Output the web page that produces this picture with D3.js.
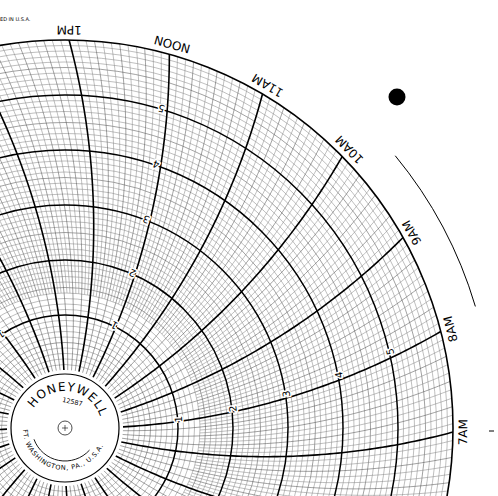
<!DOCTYPE html>
<html><head><meta charset="utf-8">
<script src="https://cdn.jsdelivr.net/npm/d3@7"></script>
<style>body{margin:0;background:#fff}svg{display:block}</style>
</head><body>
<script>
// data
const hourLabels = [
  {t:7, text:"7AM"},{t:8, text:"8AM"},{t:9, text:"9AM"},{t:10, text:"10AM"},
  {t:11, text:"11AM"},{t:12, text:"NOON"},{t:13, text:"1PM"},{t:14,text:"2PM"},
  {t:15,text:"3PM"},{t:16,text:"4PM"},{t:17,text:"5PM"},{t:18,text:"6PM"},
  {t:19,text:"7PM"},{t:20,text:"8PM"},{t:21,text:"9PM"},{t:22,text:"10PM"},
  {t:23,text:"11PM"},{t:24,text:"MID"},{t:25,text:"1AM"},{t:26,text:"2AM"},
  {t:27,text:"3AM"},{t:28,text:"4AM"},{t:29,text:"5AM"},{t:30,text:"6AM"}];
const scaleValues = [1,2,3,4,5];
const scaleLabelHours = [8,12,16,20,24,28];
const scaleDomain = [0,6];
const minorPerUnit = 10;
const minorPerHour = 12;

const W=498,H=496, cx=65, cy=428, R0=58, R=388, rho=720;
const svg=d3.select("body").append("svg").attr("width",W).attr("height",H);
const rS=d3.scaleLinear().domain(scaleDomain).range([R0,R]);
const tS=d3.scaleLinear().domain([7,31]).range([-0.6*Math.PI/180, (360-0.6)*Math.PI/180]);
const bend=r=>Math.asin(R/(2*rho))-Math.asin(r/(2*rho));
const pt=(a,r)=>[cx+r*Math.cos(a), cy-r*Math.sin(a)];
const tl=(t,r)=>pt(tS(t)-bend(r), r);

svg.append("defs").append("clipPath").attr("id","disc").append("circle").attr("cx",cx).attr("cy",cy).attr("r",R);
const g=svg.append("g").attr("clip-path","url(#disc)");

// minor circles
const circ=[];
for(let i=0;i<=scaleDomain[1]*minorPerUnit;i++) circ.push(i/minorPerUnit);
g.selectAll("circle.m").data(circ.filter(v=>Math.abs(v-Math.round(v))>1e-6)).join("circle")
 .attr("cx",cx).attr("cy",cy).attr("r",d=>rS(d)).attr("fill","none")
 .attr("stroke",d=>Math.abs(d*2-Math.round(d*2))<1e-6?"#555":"#8a8a8a").attr("stroke-width",0.55);
// minor time lines
const line=d3.line();
const mins=[];
for(let h=7;h<31;h++) for(let k=1;k<minorPerHour;k++) mins.push(h+k/minorPerHour);
const kOf=t=>Math.round((t%1)*minorPerHour);
g.selectAll("path.mt").data(mins).join("path")
 .attr("d",t=>{const r0=(kOf(t)%3===0)?R0:rS(1.4);
   return line(d3.range(r0,R+2,4).concat([R+2]).map(r=>tl(t,r)));})
 .attr("fill","none").attr("stroke",t=>kOf(t)%3===0?"#555":"#8a8a8a").attr("stroke-width",0.55);
// major circles
g.selectAll("circle.M").data(d3.range(1,6)).join("circle")
 .attr("cx",cx).attr("cy",cy).attr("r",d=>rS(d)).attr("fill","none").attr("stroke","#000").attr("stroke-width",1.5);
// hour lines
g.selectAll("path.h").data(hourLabels).join("path")
 .attr("d",d=>line(d3.range(R0,R+2,4).concat([R+2]).map(r=>tl(d.t,r))))
 .attr("fill","none").attr("stroke","#000").attr("stroke-width",1.6);
// outer edge
svg.append("circle").attr("cx",cx).attr("cy",cy).attr("r",R).attr("fill","none").attr("stroke","#000").attr("stroke-width",1.6);

// scale labels
const lab=[];
scaleLabelHours.forEach(h=>scaleValues.forEach(v=>lab.push({h,v})));
svg.selectAll("text.s").data(lab).join("text")
 .attr("transform",d=>{const r=rS(d.v)+1;const a=tS(d.h)-bend(r);const p=pt(a+0.018,r);
   const rot=90-a*180/Math.PI+180;return `translate(${p[0]},${p[1]}) rotate(${rot})`;})
 .attr("text-anchor","middle").attr("dy","0.35em").attr("font-family","DejaVu Sans").attr("font-size",10)
 .attr("stroke","#fff").attr("stroke-width",3).attr("paint-order","stroke").text(d=>d.v);

// hour labels
svg.selectAll("text.h").data(hourLabels).join("text")
 .attr("transform",d=>{const a=tS(d.t);const p=pt(a,R+10);let rot=90-a*180/Math.PI;
   if(d.text!=="NOON") rot+=180; return `translate(${p[0]},${p[1]}) rotate(${rot})`;})
 .attr("text-anchor","middle").attr("dy","0.35em").attr("font-family","DejaVu Sans").attr("font-size",12).text(d=>d.text);

// hub
svg.append("circle").attr("cx",cx).attr("cy",cy).attr("r",R0-4).attr("fill","#fff").attr("stroke","#000").attr("stroke-width",1.2);
svg.append("circle").attr("cx",cx).attr("cy",cy).attr("r",7).attr("fill","none").attr("stroke","#000").attr("stroke-width",0.7);
svg.append("path").attr("d",`M${cx-3},${cy}H${cx+3}M${cx},${cy-3}V${cy+3}`).attr("stroke","#000").attr("stroke-width",0.6);
const arcP=(r,a0,a1,ccw)=>{const p=d3.path();const s=pt(a0*Math.PI/180,r);p.moveTo(s[0],s[1]);
  p.arc(cx,cy,r,-a0*Math.PI/180,-a1*Math.PI/180,ccw);return p.toString();};
svg.append("path").attr("d",arcP(33,200,318,true)).attr("fill","none").attr("stroke","#000").attr("stroke-width",0.9);
const defs=svg.select("defs");
defs.append("path").attr("id","hw").attr("d",arcP(37,150,15,false));
defs.append("path").attr("id","fw").attr("d",arcP(43,178,340,true));
svg.append("text").attr("font-family","DejaVu Sans").attr("font-size",12).attr("letter-spacing",1)
 .append("textPath").attr("href","#hw").attr("startOffset","50%").attr("text-anchor","middle").text("HONEYWELL");
svg.append("text").attr("x",72).attr("y",404).attr("text-anchor","middle").attr("transform","rotate(12,72,404)")
 .attr("font-family","DejaVu Sans").attr("font-size",6.5).text("12587");
svg.append("text").attr("font-family","DejaVu Sans").attr("font-size",6.5).attr("dy","-1").attr("letter-spacing",0.8)
 .append("textPath").attr("href","#fw").attr("startOffset","50%").attr("text-anchor","middle").text("FT. WASHINGTON, PA., U.S.A.");

// extras
svg.append("circle").attr("cx",397).attr("cy",97).attr("r",8.5).attr("fill","#000");
svg.append("path").attr("d",arcP(428,39.5,16.5,false)).attr("fill","none").attr("stroke","#000").attr("stroke-width",1);
svg.append("path").attr("d","M489,431H494").attr("stroke","#000").attr("stroke-width",1);
svg.append("text").attr("x",0).attr("y",21).attr("font-family","DejaVu Sans").attr("font-size",5).text("ED IN U.S.A.");
</script>
</body></html>
